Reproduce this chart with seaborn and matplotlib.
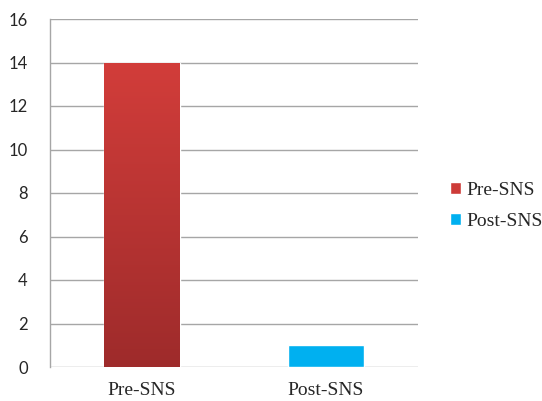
import numpy as np
import pandas as pd
import matplotlib
matplotlib.use("Agg")
import matplotlib.pyplot as plt
import seaborn as sns
from matplotlib.colors import LinearSegmentedColormap

categories = ["Pre-SNS", "Post-SNS"]
values = [14, 1]
y_ticks = [0, 2, 4, 6, 8, 10, 12, 14, 16]

bar_colors = {"Pre-SNS": "#CD3B38", "Post-SNS": "#00B0F0"}
grid_color = "#A6A6A6"

df = pd.DataFrame({"group": categories, "count": values})

sns.set_theme(style="white")
fig = plt.figure(figsize=(5.42, 4.01), dpi=100)
ax = fig.add_axes([50 / 542, 1 - 367 / 401, 368 / 542, 348 / 401])

sns.barplot(data=df, x="group", y="count", hue="group", palette=bar_colors,
            order=categories, hue_order=categories, width=0.41, dodge=False,
            legend=True, ax=ax, zorder=3, saturation=1)

ax.set_ylim(0, 16)
ax.set_xlim(-0.5, 1.5)
ax.set_yticks(y_ticks)
ax.set_yticklabels([str(v) for v in y_ticks], fontfamily="Lato", fontsize=12)
ax.set_xticks([0, 1])
ax.set_xticklabels(categories, fontfamily="Liberation Serif", fontsize=14)
ax.set_xticks([-0.5, 0.5, 1.5], minor=True)
ax.tick_params(axis="x", which="major", length=0, pad=11)
ax.tick_params(axis="x", which="minor", length=5, color=grid_color, width=1, direction="out")
ax.tick_params(axis="y", length=7, color=grid_color, width=1, direction="out", pad=9)
ax.set_xlabel("")
ax.set_ylabel("")

ax.grid(axis="y", color=grid_color, linewidth=1, zorder=0)
ax.set_axisbelow(True)
for side in ["top", "right", "bottom"]:
    ax.spines[side].set_visible(False)
ax.spines["left"].set_color(grid_color)
ax.spines["left"].set_linewidth(1)

# Vertical shading on the Pre-SNS bar: lighter at the top, darker at the base
red_ramp = LinearSegmentedColormap.from_list("red_ramp", ["#9E2B2B", "#D23D3A"])
bar = ax.patches[0]
x0, y0 = bar.get_x(), bar.get_y()
w, h = bar.get_width(), bar.get_height()
grad = np.linspace(0, 1, 256).reshape(-1, 1)
img = ax.imshow(grad, cmap=red_ramp, origin="lower", aspect="auto",
                extent=[x0, x0 + w, y0, y0 + h], zorder=4)
img.set_clip_path(bar)
ax.set_xlim(-0.5, 1.5)
ax.set_ylim(0, 16)

sns.move_legend(ax, "center left", bbox_to_anchor=(450 / 542, 1 - 206 / 401),
                bbox_transform=fig.transFigure, frameon=False, title=None,
                borderpad=0, borderaxespad=0,
                handlelength=0.57, handleheight=0.57, handletextpad=0.28,
                labelspacing=0.75, prop={"family": "Liberation Serif", "size": 14})

fig.savefig("out.png", dpi=100)
